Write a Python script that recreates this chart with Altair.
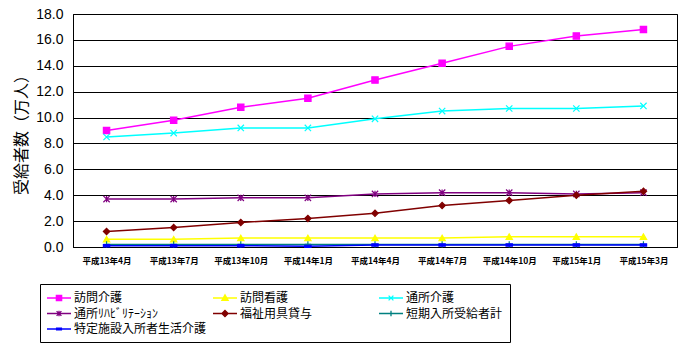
import altair as alt
import pandas as pd

# ---- data ----
months = ["平成13年4月", "平成13年7月", "平成13年10月", "平成14年1月", "平成14年4月",
          "平成14年7月", "平成14年10月", "平成15年1月", "平成15年3月"]
series_names = ["訪問介護", "訪問看護", "通所介護", "通所ﾘﾊﾋﾞﾘﾃｰｼｮﾝ",
                "福祉用具貸与", "短期入所受給者計", "特定施設入所者生活介護"]
houmon_kaigo = [9.0, 9.8, 10.8, 11.5, 12.9, 14.2, 15.5, 16.3, 16.8]
houmon_kango = [0.6, 0.6, 0.7, 0.7, 0.7, 0.7, 0.8, 0.8, 0.8]
tsusho_kaigo = [8.5, 8.8, 9.2, 9.2, 9.9, 10.5, 10.7, 10.7, 10.9]
tsusho_reha = [3.7, 3.7, 3.8, 3.8, 4.1, 4.2, 4.2, 4.1, 4.2]
fukushi_yogu = [1.2, 1.5, 1.9, 2.2, 2.6, 3.2, 3.6, 4.0, 4.3]
tanki_nyusho = [0.2, 0.2, 0.2, 0.2, 0.2, 0.2, 0.2, 0.2, 0.2]
tokutei_shisetsu = [0.1, 0.1, 0.1, 0.05, 0.15, 0.15, 0.15, 0.15, 0.15]
y_ticks = [0, 2, 4, 6, 8, 10, 12, 14, 16, 18]

colors = ["#FF00FF", "#FFFF00", "#00FFFF", "#800080", "#800000", "#008080", "#0000FF"]

# marker shapes on the plot
marker_paths = [
    "M-1,-1H1V1H-1Z",                          # square
    "triangle-up",                              # triangle
    "M-1,-1L1,1M-1,1L1,-1",                    # x
    "M-1,-1L1,1M-1,1L1,-1M0,-1V1",             # asterisk
    "diamond",                                  # diamond
    "M-1,0H1M0,-1V1",                           # plus
    "M-1,-0.35H1V0.35H-1Z",                     # dash
]
# legend symbols: line + small marker (line spans -2..2)
legend_paths = [
    "M-2,0H2M-0.44,-0.44H0.44V0.44H-0.44Z",
    "M-2,0H2M0,-0.52L0.52,0.4H-0.52Z",
    "M-2,0H2M-0.4,-0.4L0.4,0.4M-0.4,0.4L0.4,-0.4",
    "M-2,0H2M-0.4,-0.4L0.4,0.4M-0.4,0.4L0.4,-0.4M0,-0.44V0.44",
    "M-2,0H2M0,-0.52L0.52,0L0,0.52L-0.52,0Z",
    "M-2,0H2M0,-0.44V0.44",
    "M-2,0H2M-0.4,-0.16H0.4V0.16H-0.4Z",
]

values = [houmon_kaigo, houmon_kango, tsusho_kaigo, tsusho_reha,
          fukushi_yogu, tanki_nyusho, tokutei_shisetsu]
rows = []
for name, vals in zip(series_names, values):
    for m, v in zip(months, vals):
        rows.append({"月": m, "系列": name, "値": v})
df = pd.DataFrame(rows)

JP = "Noto Sans CJK JP"

x = alt.X("月:N", sort=months,
          scale=alt.Scale(type="point", padding=0.5),
          axis=alt.Axis(title=None, labelAngle=0, labelFont=JP, labelFontSize=8.5,
                        labelFontWeight="bold", labelColor="black", ticks=False,
                        domainColor="black", labelPadding=9, grid=False))
y = alt.Y("値:Q", scale=alt.Scale(domain=[0, 18], nice=False),
          axis=alt.Axis(values=y_ticks, format=".1f", grid=True, gridColor="black",
                        gridWidth=1, gridOpacity=1, ticks=False, labelPadding=10,
                        labelFont="Liberation Sans", labelFontSize=14, labelColor="black",
                        domainColor="black",
                        title="受給者数（万人）", titleFont=JP, titleFontSize=16,
                        titleFontWeight="normal", titleColor="black", titlePadding=6))

color_scale = alt.Scale(domain=series_names, range=colors)

lines = alt.Chart(df).mark_line(strokeWidth=1.5).encode(
    x=x, y=y,
    color=alt.Color("系列:N", scale=color_scale, sort=series_names, legend=None),
)

points = alt.Chart(df).mark_point(filled=True, opacity=1, strokeWidth=1.2, size=40).encode(
    x=x, y=y,
    fill=alt.Fill("系列:N", scale=color_scale, sort=series_names, legend=None),
    stroke=alt.Stroke("系列:N", scale=color_scale, sort=series_names, legend=None),
    shape=alt.Shape("系列:N", scale=alt.Scale(domain=series_names, range=marker_paths),
                    sort=series_names, legend=None),
)

leg = alt.Legend(title=None, orient="none", legendX=-33, legendY=270, columns=3,
                 direction="horizontal",
                 gridAlign="all", columnPadding=3, rowPadding=2.5,
                 symbolSize=144, symbolStrokeWidth=1.3, symbolOffset=5,
                 labelFont=JP, labelFontSize=12, labelColor="black", labelOffset=8,
                 labelLimit=300, padding=7, strokeColor="black", fillColor="white")

legend_layer = alt.Chart(df).transform_filter("datum['値'] < 0").mark_point(
    filled=True, opacity=1).encode(
    x=x, y=y,
    fill=alt.Fill("系列:N", scale=color_scale, sort=series_names, legend=leg),
    stroke=alt.Stroke("系列:N", scale=color_scale, sort=series_names, legend=leg),
    shape=alt.Shape("系列:N", scale=alt.Scale(domain=series_names, range=legend_paths),
                    sort=series_names, legend=leg),
)

chart = alt.layer(lines, points, legend_layer).resolve_scale(
    color="independent", fill="independent", stroke="independent", shape="independent"
).properties(
    width=604, height=233,
    autosize=alt.AutoSizeParams(type="none"),
    padding={"left": 73, "top": 14, "right": 12, "bottom": 106},
    background="white",
).configure_view(stroke="black", strokeWidth=1)

chart.save("out.html", embed_options={"renderer": "svg", "actions": False})
